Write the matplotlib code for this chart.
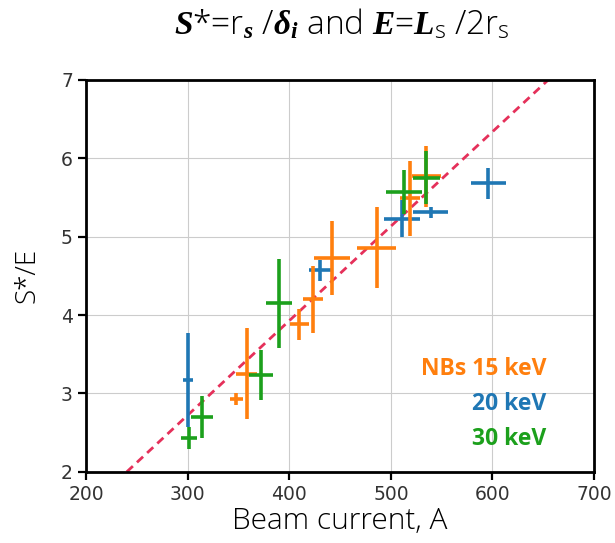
import matplotlib
matplotlib.use("Agg")
import numpy as np
from matplotlib import pyplot as plt

# values
blue_x = [300, 430, 511, 539, 596]
blue_y = [3.17, 4.57, 5.23, 5.31, 5.68]
blue_xerr = [5, 11, 18, 17, 17]
blue_yerr = [0.60, 0.13, 0.24, 0.07, 0.20]

orange_x = [348, 358, 410, 423, 442, 486, 519, 535]
orange_y = [2.93, 3.25, 3.88, 4.20, 4.73, 4.86, 5.49, 5.77]
orange_xerr = [6, 10, 9, 10, 18, 19, 10, 14]
orange_yerr = [0.08, 0.58, 0.20, 0.43, 0.47, 0.52, 0.48, 0.39]

green_x = [301, 314, 372, 390, 513, 535]
green_y = [2.43, 2.70, 3.24, 4.15, 5.57, 5.75]
green_xerr = [8, 11, 11.5, 12.6, 18, 13]
green_yerr = [0.14, 0.27, 0.32, 0.57, 0.28, 0.34]

# dashed guide line y = a*x + b
fit_slope = 0.01205
fit_intercept = -0.892

labels = ["NBs 15 keV", "20 keV", "30 keV"]
label_y = [3.31, 2.86, 2.42]

c_orange = "#ff7f0e"
c_blue = "#1f77b4"
c_green = "#1ca01c"

plt.rcParams["mathtext.fontset"] = "custom"
plt.rcParams["mathtext.rm"] = "Open Sans:light"
plt.rcParams["mathtext.it"] = "Liberation Serif:italic"
plt.rcParams["mathtext.bf"] = "Liberation Serif:bold"
plt.rcParams["mathtext.bfit"] = "Liberation Serif:bold:italic"

fig = plt.figure(figsize=(6.15, 5.43), dpi=100)
ax = fig.add_axes([0.14, 0.131, 0.826, 0.722])

ax.grid(True, color="#cccccc", lw=0.8)
ax.set_axisbelow(True)

xs = np.array([200, 700])
ax.plot(xs, fit_slope * xs + fit_intercept, ls=(0, (3, 2)), color="#e5305a", lw=2, zorder=2)

ax.errorbar(blue_x, blue_y, xerr=blue_xerr, yerr=blue_yerr, fmt="none",
            ecolor=c_blue, elinewidth=2.6, zorder=3)
ax.errorbar(orange_x, orange_y, xerr=orange_xerr, yerr=orange_yerr, fmt="none",
            ecolor=c_orange, elinewidth=2.6, zorder=3)
ax.errorbar(green_x, green_y, xerr=green_xerr, yerr=green_yerr, fmt="none",
            ecolor=c_green, elinewidth=2.6, zorder=3)

for txt, yy, col in zip(labels, label_y, [c_orange, c_blue, c_green]):
    ax.text(653, yy, txt, color=col, fontsize=16.5, fontweight="bold",
            family="Open Sans", ha="right", va="center")

ax.set_xlim(200, 700)
ax.set_ylim(2, 7)
ax.set_xticks([200, 300, 400, 500, 600, 700])
ax.set_yticks([2, 3, 4, 5, 6, 7])
ax.tick_params(direction="out", length=6, width=1.6, labelsize=13.5,
               labelcolor="#333333")
for s in ax.spines.values():
    s.set_linewidth(2)

ax.set_xlabel("Beam current, A", fontsize=21.5, family="Open Sans",
              fontweight="light", labelpad=2)
ax.set_ylabel("S*/E", fontsize=20, family="Open Sans", fontweight="light",
              labelpad=14)

fig.text(0.555, 0.955,
         r"$\mathbfit{S}$*=r$_{\mathbfit{s}}$ /$\mathbfit{\delta_i}$ and "
         r"$\mathbfit{E}$=$\mathbfit{L}_{\mathrm{s}}$ /2r$_{\mathrm{s}}$",
         fontsize=24, family="Open Sans", fontweight="light",
         ha="center", va="center")

fig.savefig("out.png", dpi=100)
